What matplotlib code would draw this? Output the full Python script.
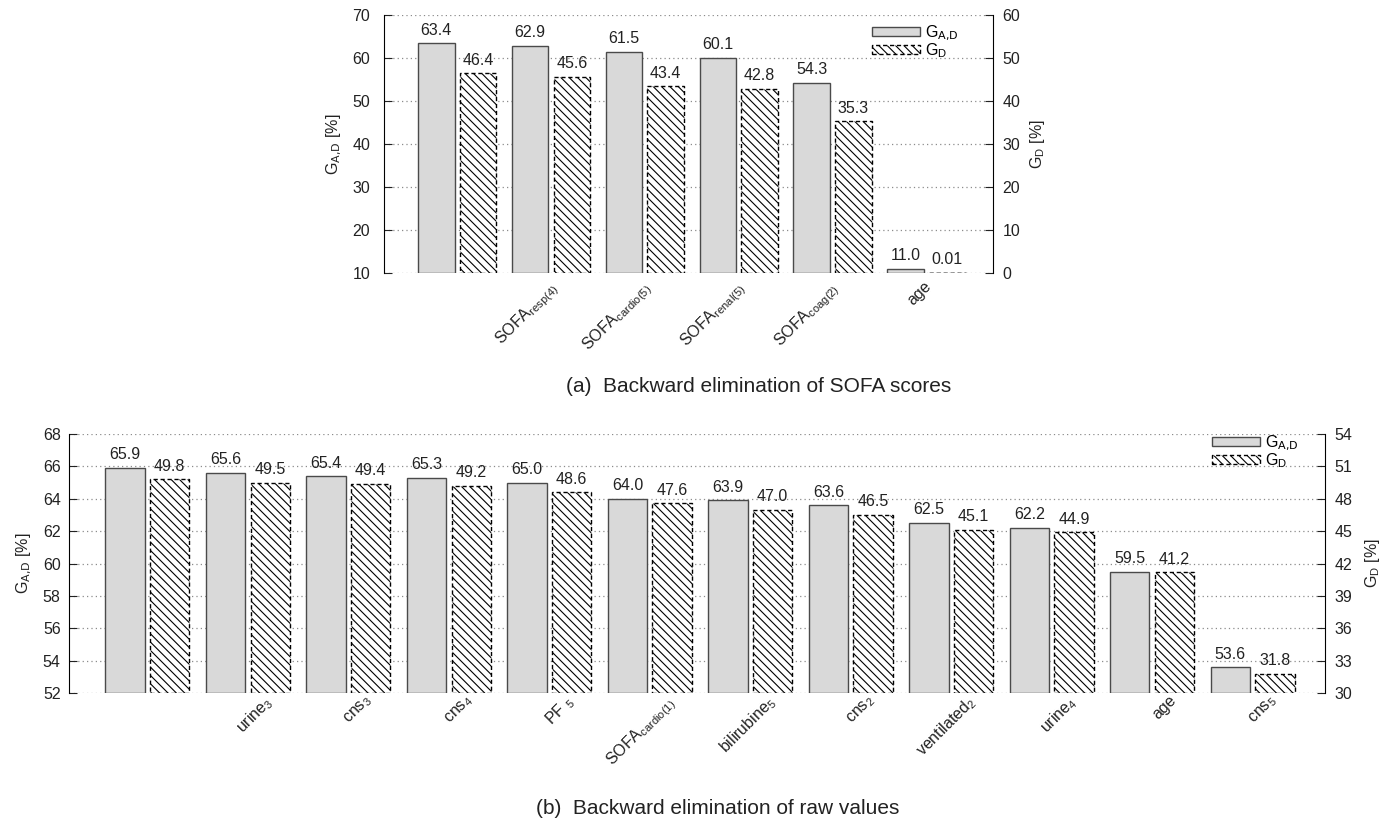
import matplotlib
matplotlib.use("Agg")
import matplotlib.pyplot as plt
import matplotlib.transforms as mtransforms
import numpy as np

plt.rcParams["font.family"] = ["Liberation Sans", "DejaVu Sans"]
plt.rcParams["mathtext.default"] = "regular"
plt.rcParams["hatch.linewidth"] = 0.8

# (a) SOFA scores
sofa_labels = ["", r"SOFA$_{resp(4)}$", r"SOFA$_{cardio(5)}$", r"SOFA$_{renal(5)}$",
               r"SOFA$_{coag(2)}$", "age"]
sofa_gad = [63.4, 62.9, 61.5, 60.1, 54.3, 11.0]
sofa_gd = [46.4, 45.6, 43.4, 42.8, 35.3, 0.01]

# (b) raw values
raw_labels = ["", r"urine$_3$", r"cns$_3$", r"cns$_4$", r"PF $_5$", r"SOFA$_{cardio(1)}$",
              r"bilirubine$_5$", r"cns$_2$", r"ventilated$_2$", r"urine$_4$", "age", r"cns$_5$"]
raw_gad = [65.9, 65.6, 65.4, 65.3, 65.0, 64.0, 63.9, 63.6, 62.5, 62.2, 59.5, 53.6]
raw_gd = [49.8, 49.5, 49.4, 49.2, 48.6, 47.6, 47.0, 46.5, 45.1, 44.9, 41.2, 31.8]

GRAY = "#d9d9d9"
INK = "#222222"
W, OFF = 0.39, 0.222
FS = 11.5
LAB_GAD = r"G$_\text{A,D}$"
LAB_GD = r"G$_D$"


def fmt(v):
    return f"{v:.2f}" if v < 1 else f"{v:.1f}"


def panel(fig, rect, labels, gad, gd, lim_l, ticks_l, lim_r, ticks_r,
          xlim, lab_shift, xpad, ypad, lab_x, leg_xy):
    ax = fig.add_axes(rect)
    ax2 = ax.twinx()
    x = np.arange(len(labels))

    b1 = ax.bar(x - OFF, np.array(gad) - lim_l[0], W, bottom=lim_l[0], color=GRAY,
                edgecolor="#4a4a4a", linewidth=1.0, zorder=2, label=LAB_GAD)
    b2 = ax2.bar(x + OFF, np.array(gd) - lim_r[0], W, bottom=lim_r[0], color="white",
                 edgecolor="black", linewidth=1.0, linestyle=(0, (3, 2)),
                 hatch="\\\\\\\\", zorder=2, label=LAB_GD)

    for xi, v in zip(x - OFF, gad):
        ax.annotate(fmt(v), (xi, v), xytext=(0, 4), textcoords="offset points",
                    ha="center", va="bottom", fontsize=FS, color=INK)
    for xi, v in zip(x + OFF, gd):
        ax2.annotate(fmt(v), (xi, v), xytext=(0, 4), textcoords="offset points",
                     ha="center", va="bottom", fontsize=FS, color=INK)

    ax.set_xlim(*xlim)
    ax.set_ylim(*lim_l)
    ax2.set_ylim(*lim_r)
    ax.set_yticks(ticks_l)
    ax2.set_yticks(ticks_r)
    ax.grid(axis="y", linestyle=(0, (1, 2.5)), color="#8c8c8c", linewidth=0.9, zorder=0)
    ax.set_axisbelow(True)

    for a in (ax, ax2):
        a.spines["top"].set_visible(False)
        a.spines["bottom"].set_visible(False)
    ax.spines["right"].set_visible(False)
    ax2.spines["left"].set_visible(False)

    ax.tick_params(axis="y", direction="in", length=6, labelsize=FS, pad=ypad, colors=INK)
    ax2.tick_params(axis="y", direction="in", length=6, labelsize=FS, pad=7, colors=INK)
    ax.set_xticks(x)
    ax.set_xticklabels(labels, rotation=45, ha="right", rotation_mode="anchor",
                       fontsize=FS, color=INK)
    ax.tick_params(axis="x", length=0, pad=xpad)
    shift = mtransforms.ScaledTranslation(lab_shift / 100, 0, fig.dpi_scale_trans)
    for t in ax.get_xticklabels():
        t.set_transform(t.get_transform() + shift)

    ax.set_ylabel(LAB_GAD + " [%]", fontsize=FS, color=INK)
    ax2.set_ylabel(LAB_GD + " [%]", fontsize=FS, color=INK)
    ax.yaxis.set_label_coords(lab_x[0], 0.5)
    ax2.yaxis.set_label_coords(lab_x[1], 0.5)

    ax2.legend(handles=[b1, b2], loc="upper left", bbox_to_anchor=leg_xy,
               frameon=False, fontsize=FS, handlelength=3.0, handleheight=0.5,
               handletextpad=0.3, labelspacing=-0.1, borderpad=0.0, borderaxespad=0.0)
    return ax, ax2


fig = plt.figure(figsize=(13.92, 8.23), dpi=100)

panel(fig, [384 / 1392, 1 - 273 / 823, 609 / 1392, 258 / 823],
      sofa_labels, sofa_gad, sofa_gd, (10, 70), np.arange(10, 71, 10),
      (0, 60), np.arange(0, 61, 10), (-0.78, 5.71), -3, 4, 10, (-0.066, 1.057),
      (0.801, 0.968))
fig.text(759 / 1392, 1 - 386 / 823, "(a)  Backward elimination of SOFA scores",
         ha="center", va="center", fontsize=15, color=INK)

panel(fig, [69 / 1392, 1 - 693 / 823, 1256 / 1392, 259 / 823],
      raw_labels, raw_gad, raw_gd, (52, 68), np.arange(52, 69, 2),
      (30, 54), np.arange(30, 55, 3), (-0.78, 11.72), 16, 0, 6, (-0.028, 1.030),
      (0.910, 1.003))
fig.text(718 / 1392, 1 - 808 / 823, "(b)  Backward elimination of raw values",
         ha="center", va="center", fontsize=15, color=INK)

fig.savefig("out.png", dpi=100)
